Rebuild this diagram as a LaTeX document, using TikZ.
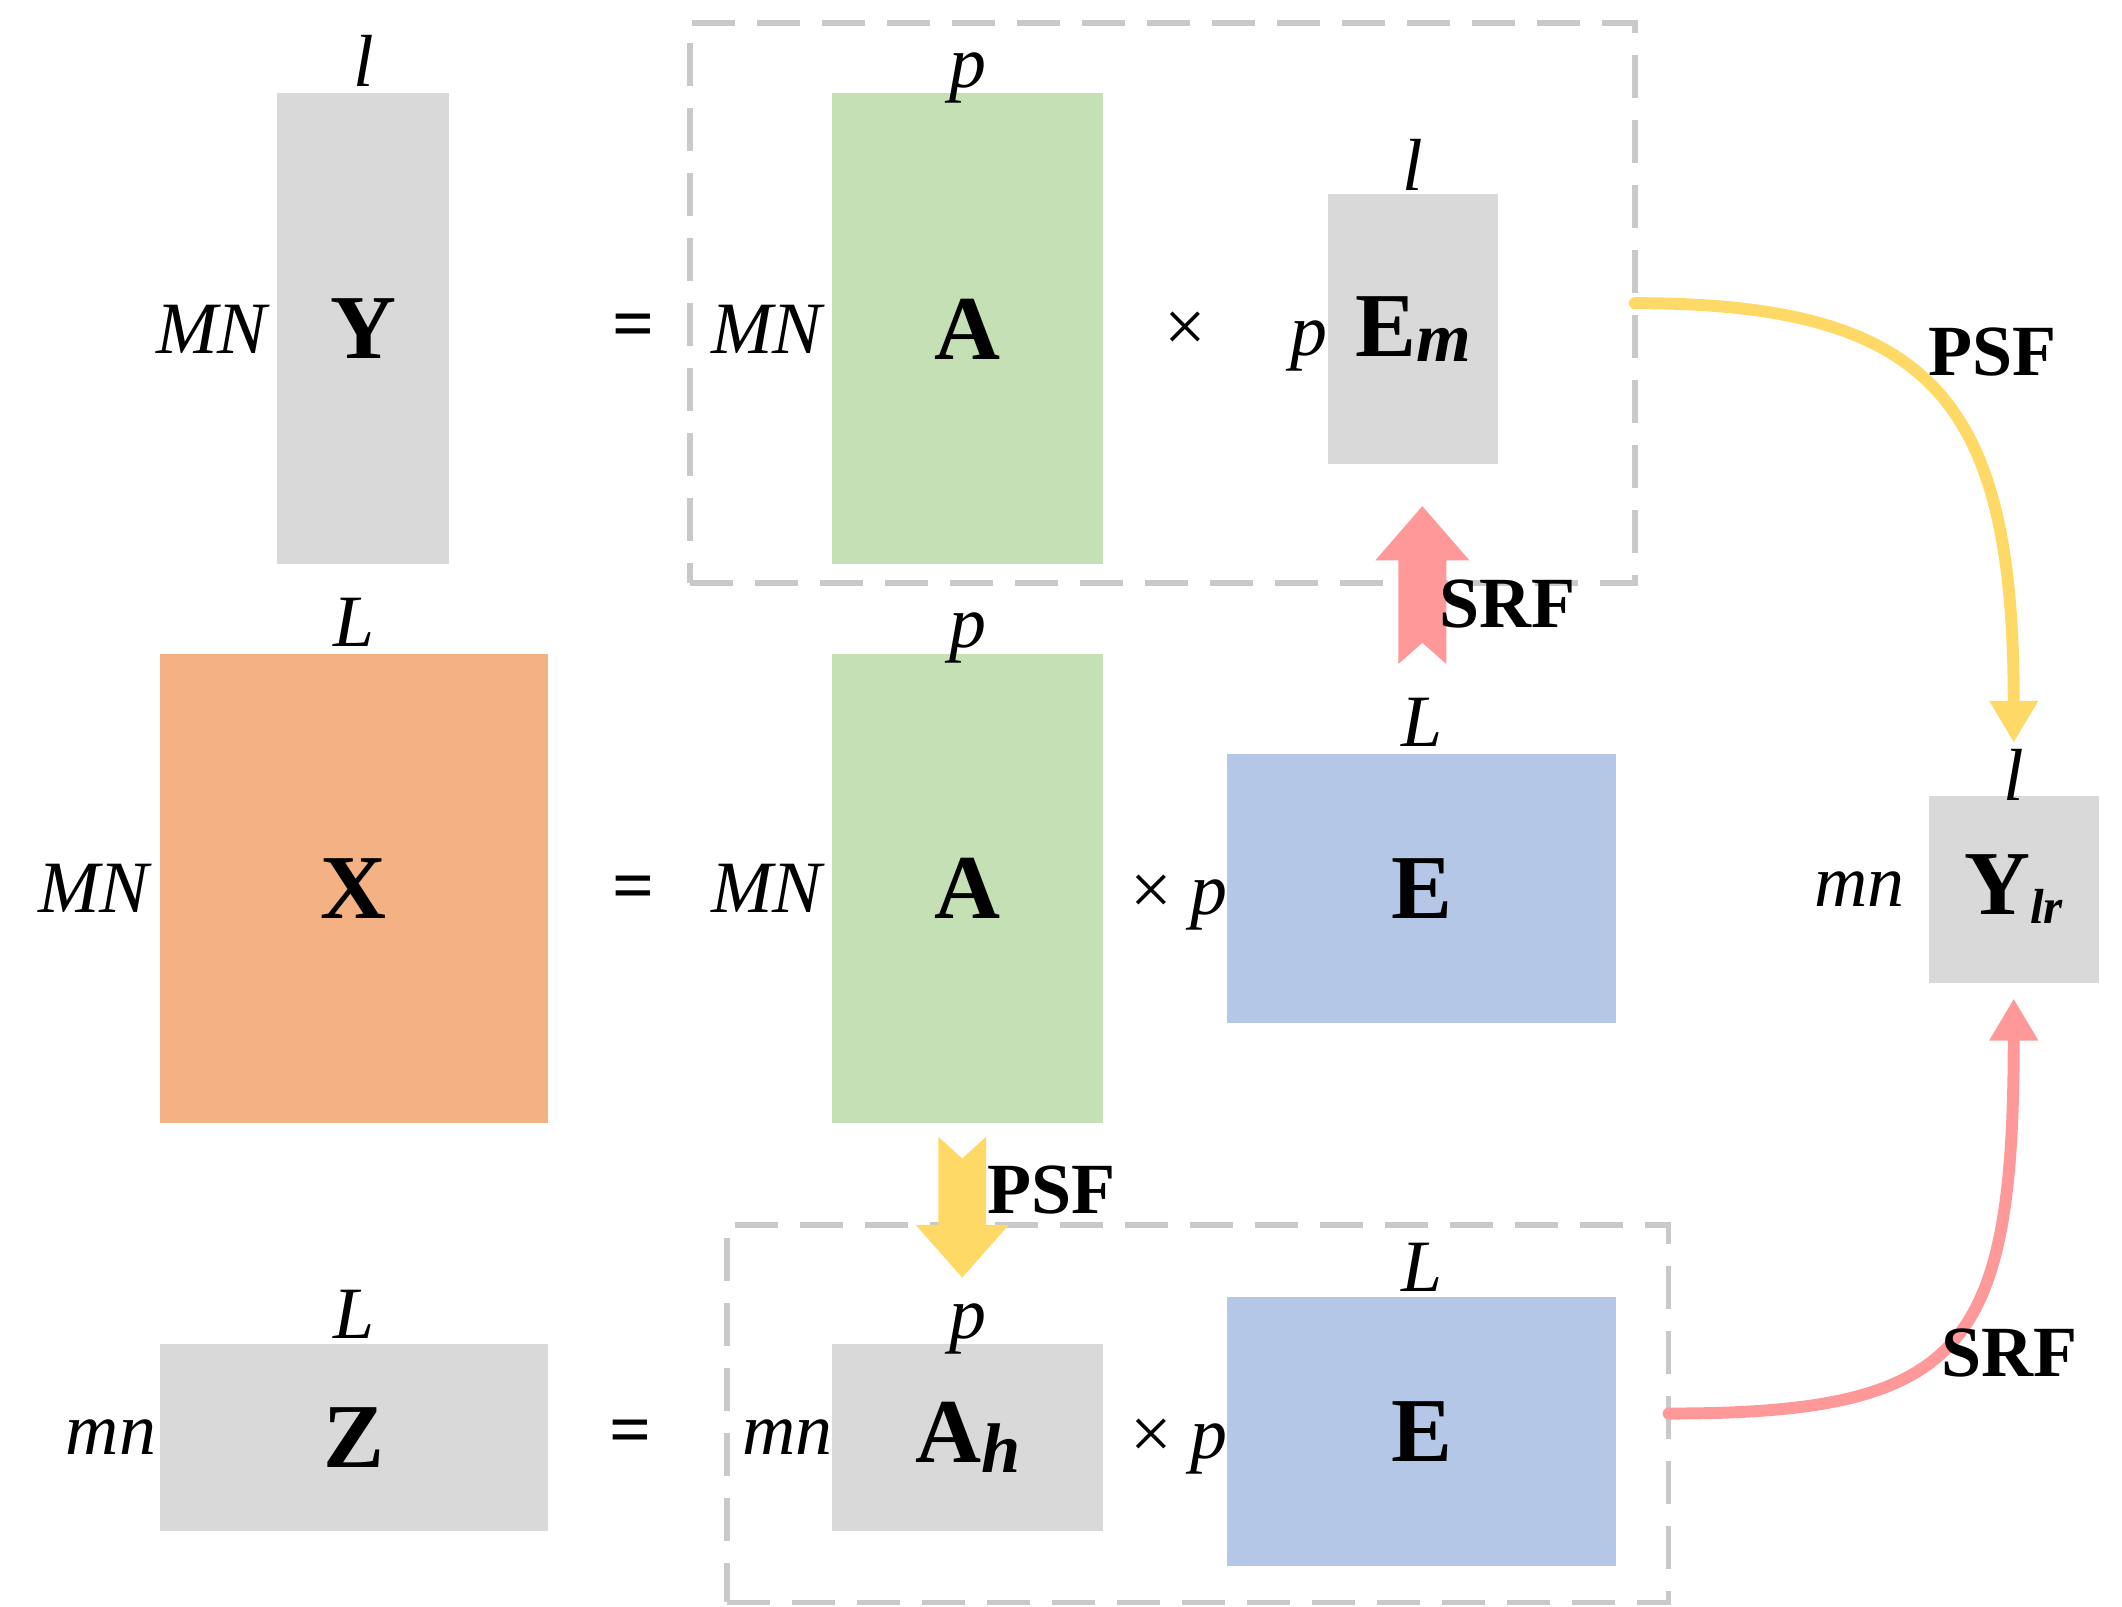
\documentclass[tikz,border=0pt]{standalone}
\usepackage{fontspec}
\setmainfont{Liberation Serif}
\usepackage{tikz}
\usetikzlibrary{positioning,arrows.meta}
\definecolor{blockgray}{HTML}{D9D9D9}
\definecolor{blockgreen}{HTML}{C5E0B4}
\definecolor{blockorange}{HTML}{F4B183}
\definecolor{blockblue}{HTML}{B4C7E7}
\definecolor{psfyellow}{HTML}{FFD966}
\definecolor{srfpink}{HTML}{FF9999}
\definecolor{dashgray}{HTML}{C9C9C9}

\begin{document}
\begin{tikzpicture}
[x=0.013533cm, y=-0.013533cm,
% STYLES
every node/.style={inner sep=0pt, outer sep=0pt},
% The matblock style draws one matrix
matblock/.style={rectangle, fill=#1, font=\bfseries\fontsize{26}{30}\selectfont},
% The dimlab style writes the size of a matrix
dimlab/.style={font=\itshape\fontsize{21}{25}\selectfont},
oplab/.style={font=\fontsize{21}{25}\selectfont},
% The groupbox style frames a product
groupbox/.style={rectangle, draw=dashgray, line width=1.6pt, dash pattern=on 0.43cm off 0.22cm},
flowlab/.style={font=\bfseries\fontsize{20.5}{24}\selectfont},
psfcurve/.style={draw=psfyellow, line width=3.4pt, line cap=round, -{Triangle[length=0.42cm, width=0.46cm]}},
srfcurve/.style={draw=srfpink, line width=3.4pt, line cap=round, -{Triangle[length=0.42cm, width=0.46cm]}}]

\useasboundingbox (0,0) rectangle (1568,1187);

% Draw the dashed groups
\node [groupbox, minimum width=9.446cm, minimum height=5.603cm] (topgrp) at (859,224) {};
\node [groupbox, minimum width=9.419cm, minimum height=3.776cm] (botgrp) at (885,1044.5) {};

% Row 1
\node [matblock=blockgray, minimum width=1.719cm, minimum height=4.709cm] (Y) at (268.5,243) {Y};
\node [matblock=blockgreen, minimum width=2.707cm, minimum height=4.709cm] (A1) at (715,243) {A};
\node [matblock=blockgray, minimum width=1.705cm, minimum height=2.707cm] (Em) at (1044,243)
  {E\raisebox{-1.5pt}{\fontsize{20}{20}\selectfont\textit{m}}};

% Row 2
\node [matblock=blockorange, minimum width=3.884cm, minimum height=4.696cm] (X) at (261.5,656.5) {X};
\node [matblock=blockgreen, minimum width=2.707cm, minimum height=4.696cm] (A2) at (715,656.5) {A};
\node [matblock=blockblue, minimum width=3.884cm, minimum height=2.693cm] (E2) at (1050.5,656.5) {E};
\node [matblock=blockgray, minimum width=1.705cm, minimum height=1.868cm] (Ylr) at (1488,657)
  {Y\raisebox{-2.5pt}{\fontsize{14}{14}\selectfont\textit{lr}}};

% Row 3
\node [matblock=blockgray, minimum width=3.884cm, minimum height=1.868cm] (Z) at (261.5,1062) {Z};
\node [matblock=blockgray, minimum width=2.707cm, minimum height=1.868cm] (Ah) at (715,1062)
  {A\raisebox{-3pt}{\fontsize{20}{20}\selectfont\textit{h}}};
\node [matblock=blockblue, minimum width=3.884cm, minimum height=2.693cm] (E3) at (1050.5,1057.5) {E};

%%%%%%%%%%%%%%%
% Sizes of the matrices
\node [dimlab, above=0.07cm of Y] (Ycols) {l};
\node [dimlab, left=3pt of Y] (Yrows) {MN};
\node [dimlab, above=-0.1cm of A1] (A1cols) {p};
\node [dimlab, left=3pt of A1] (A1rows) {MN};
\node [dimlab, above=1pt of Em] (Emcols) {l};
\node [dimlab, left=0pt of Em, yshift=-0.17cm] (Emrows) {p};

\node [dimlab, above=0.07cm of X] (Xcols) {L};
\node [dimlab, left=3pt of X] (Xrows) {MN};
\node [dimlab, above=-0.1cm of A2] (A2cols) {p};
\node [dimlab, left=3pt of A2] (A2rows) {MN};
\node [dimlab, above=0.07cm of E2] (E2cols) {L};
\node [oplab, left=0pt of E2, yshift=-0.14cm] (E2rows) {× \textit{p}};
\node [dimlab, above=-0.05cm of Ylr] (Ylrcols) {l};
\node [dimlab, left=0.24cm of Ylr] (Ylrrows) {mn};

\node [dimlab, above=0.05cm of Z] (Zcols) {L};
\node [dimlab, left=1pt of Z] (Zrows) {mn};
\node [dimlab, above=-0.1cm of Ah] (Ahcols) {p};
\node [dimlab, left=0pt of Ah] (Ahrows) {mn};
\node [dimlab, above=0.05cm of E3] (E3cols) {L};
\node [oplab, left=0pt of E3, yshift=-0.15cm] (E3rows) {× \textit{p}};

% Operators
\node [oplab] (eq1) at (468,245) {\textbf{=}};
\node [oplab] (eq2) at (468,660) {\textbf{=}};
\node [oplab] (eq3) at (466,1062) {\textbf{=}};
\node [oplab] (times1) at (876,245) {×};
%%%%%%%%%%%%%%%

% Block arrows
\fill [srfpink] (1033.3,490.6) -- (1051,475) -- (1068.7,490.6) -- (1068.7,414) -- (1085.7,414)
  -- (1051,374) -- (1016.3,414) -- (1033.3,414) -- cycle;
\fill [psfyellow] (693.3,840) -- (711,856) -- (728.7,840) -- (728.7,905) -- (745.5,905)
  -- (711,944) -- (676.5,905) -- (693.3,905) -- cycle;
\node [flowlab] (srfmid) at (1114,446) {SRF};
\node [flowlab] (psfmid) at (777,879) {PSF};

% Draw the links to the low resolution image
\draw [psfcurve, shorten >=0.53cm] (topgrp.east) .. controls +(220,0) and +(0,-292) .. (Ylr.north);
\draw [srfcurve, shorten >=0.16cm] (botgrp.east) .. controls +(217,0) and +(0,273) .. (Ylr.south);
\node [flowlab] (psfside) at (1472,260) {PSF};
\node [flowlab] (srfside) at (1485,1000) {SRF};

\end{tikzpicture}
\end{document}
